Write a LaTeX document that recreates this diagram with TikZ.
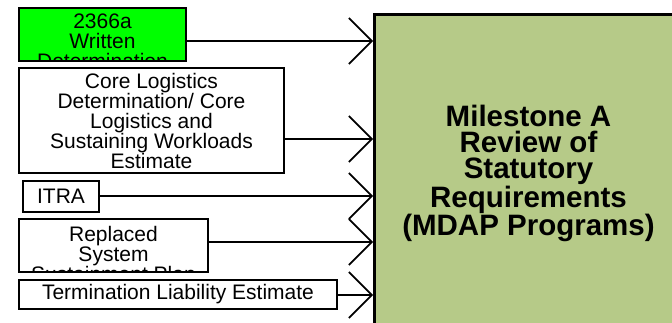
\documentclass[tikz,border=0pt]{standalone}
\usepackage{fontspec}
\setmainfont{Liberation Sans}
\usetikzlibrary{arrows.meta}
\definecolor{brightgreen}{RGB}{0,255,0}
\definecolor{msfill}{RGB}{182,202,136}
\begin{document}
\begin{tikzpicture}[x=1pt,y=-1pt,
  box/.style={draw=black, line width=2pt, rectangle, inner sep=0pt, anchor=north west},
  lbl/.style={font=\fontsize{21}{20}\selectfont, align=center, inner sep=0pt},
  conn/.style={line width=1.6pt, -{Straight Barb[length=23pt,width=46pt]}}]
\useasboundingbox (0,0) rectangle (672,323);
\clip (0,0) rectangle (672,323);
% target
\node[draw=black, line width=3pt, fill=msfill, minimum width=308pt, minimum height=318pt,
  anchor=north west, inner sep=0pt, align=center,
  font=\fontsize{29.5}{26}\selectfont\bfseries] (ms) at (373,13)
  {Milestone A\\Review of\\Statutory\\Requirements\\(MDAP Programs)};
% inputs
\node[box, fill=brightgreen, minimum width=167pt, minimum height=53pt,
  path picture={\node[lbl, anchor=center, draw=none] at ([yshift=-6.5pt]path picture bounding box.center) {2366a\\Written\\Determination};}]
  (b1) at (18,7) {};
\node[box, fill=white, minimum width=265pt, minimum height=105pt, lbl] (b2) at (18,67)
  {Core Logistics\\Determination/ Core\\Logistics and\\Sustaining Workloads\\Estimate};
\node[box, fill=white, minimum width=76pt, minimum height=31pt, lbl] (b3) at (22,180) {ITRA};
\node[box, fill=white, minimum width=189pt, minimum height=53pt,
  path picture={\node[lbl, anchor=center, draw=none] at ([yshift=-8.5pt]path picture bounding box.center) {Replaced\\System\\Sustainment Plan};}]
  (b4) at (18,218) {};
\node[box, fill=white, minimum width=318pt, minimum height=29pt, lbl] (b5) at (18,279)
  {Termination Liability Estimate};
% arrow end points on the target box
\coordinate (t1) at ([yshift=-28pt]ms.north west);
\coordinate (t2) at ([yshift=-126pt]ms.north west);
\coordinate (t3) at ([yshift=-183pt]ms.north west);
\coordinate (t4) at ([yshift=-229pt]ms.north west);
\coordinate (t5) at ([yshift=-282pt]ms.north west);
\draw[conn] (b1.east |- t1) -- (t1);
\draw[conn] (b2.east |- t2) -- (t2);
\draw[conn] (b3.east |- t3) -- (t3);
\draw[conn] (b4.east |- t4) -- (t4);
\draw[conn] (b5.east |- t5) -- (t5);
\end{tikzpicture}
\end{document}
